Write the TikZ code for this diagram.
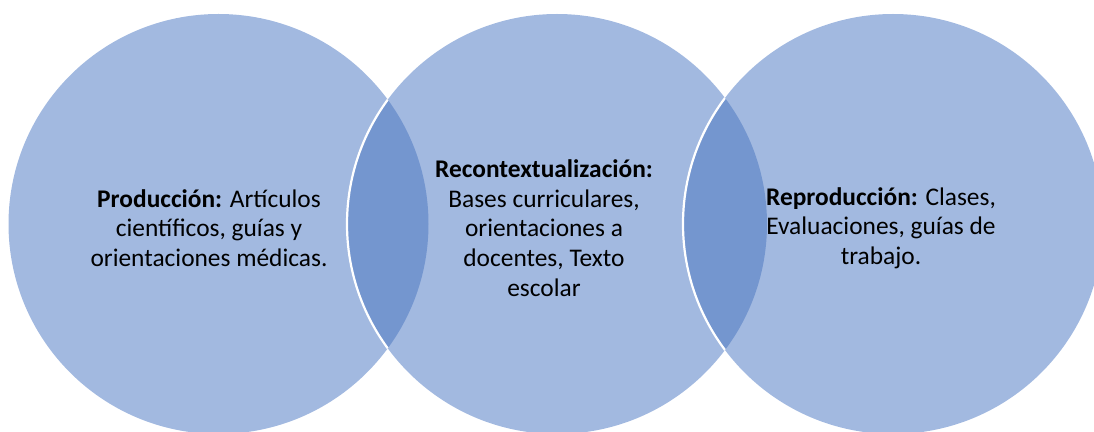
\documentclass[tikz,border=0pt]{standalone}
\usepackage{fontspec}
\setmainfont{Carlito}
\definecolor{vlight}{HTML}{A2B9E0}
\definecolor{vdark}{HTML}{7496CF}
\begin{document}
\begin{tikzpicture}[x=0.5pt,y=-0.5pt,
  txt/.style={align=center, font=\fontsize{12.7}{14.8}\selectfont, inner sep=0pt, text=black},
  venn/.style={fill=vlight},
  lens/.style={fill=vdark},
  rim/.style={draw=white, line width=1.1pt}]
\useasboundingbox (0,0) rectangle (1094,432);
\def\R{105pt}
\coordinate (cA) at (218.5,224);
\coordinate (cB) at (557,224);
\coordinate (cC) at (893,224);
\fill[venn] (cA) circle[radius=\R];
\fill[venn] (cB) circle[radius=\R];
\fill[venn] (cC) circle[radius=\R];
\begin{scope}
  \clip (cA) circle[radius=\R];
  \fill[lens] (cB) circle[radius=\R];
  \draw[rim] (cB) circle[radius=\R];
\end{scope}
\begin{scope}
  \clip (cB) circle[radius=\R];
  \fill[lens] (cC) circle[radius=\R];
  \draw[rim] (cC) circle[radius=\R];
\end{scope}
\node[txt] (prod) at (209,228) {\textbf{Producción:} Artículos\\científicos, guías y\\orientaciones médicas.};
\node[txt] (recon) at (544,228) {\textbf{Recontextualización:}\\Bases curriculares,\\orientaciones a\\docentes, Texto\\escolar};
\node[txt] (repro) at (881,228) {\textbf{Reproducción:} Clases,\\Evaluaciones, guías de\\trabajo.};
\end{tikzpicture}
\end{document}
